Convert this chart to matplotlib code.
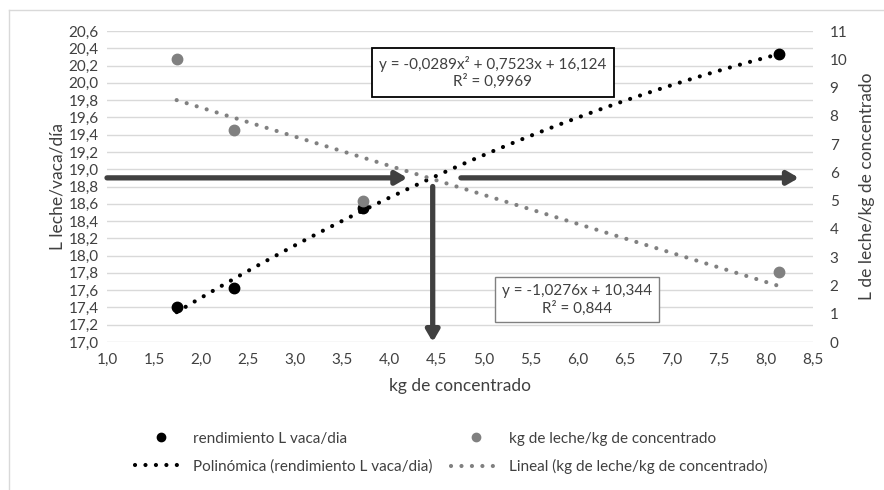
import numpy as np
import matplotlib
matplotlib.use("Agg")
from matplotlib import pyplot as plt
from matplotlib.lines import Line2D

plt.rcParams['font.family'] = ['Lato', 'DejaVu Sans']

# datos
kg_conc = [1.74, 2.35, 3.72, 8.14]
rendimiento = [17.41, 17.62, 18.55, 20.33]
leche_por_kg = [10.0, 7.5, 4.98, 2.48]

# coeficientes de las lineas de tendencia (impresos en el grafico)
poly_coef = [-0.0289, 0.7523, 16.124]
lin_coef = [-1.0276, 10.344]

eq_poly = "y = -0,0289x² + 0,7523x + 16,124\nR² = 0,9969"
eq_lin = "y = -1,0276x + 10,344\nR² = 0,844"

x_ticks = np.arange(1.0, 8.51, 0.5)
y_left_ticks = np.arange(17.0, 20.61, 0.2)
y_right_ticks = np.arange(0, 12, 1)

corte_y = 18.9
corte_x = 4.46

black = '#000000'
gray = '#808080'
arrow_col = '#404040'
txt_col = '#404040'

fig = plt.figure(figsize=(8.84, 4.9), dpi=100)
ax = fig.add_axes([107/884, 1 - 342/490, (813 - 107)/884, (342 - 31)/490])
ax2 = ax.twinx()

# marco del grafico
fig.add_artist(Line2D([9/884, 9/884], [0, 1 - 10.5/490], transform=fig.transFigure, color='#d9d9d9', lw=1))
fig.add_artist(Line2D([9/884, 1], [1 - 10.5/490, 1 - 10.5/490], transform=fig.transFigure, color='#d9d9d9', lw=1))

ax.set_xlim(1.0, 8.5)
ax.set_ylim(17.0, 20.6)
ax2.set_ylim(0, 11)

ax.set_yticks(y_left_ticks)
ax.set_yticklabels([f"{v:.1f}".replace('.', ',') for v in y_left_ticks])
ax.set_xticks(x_ticks)
ax.set_xticklabels([f"{v:.1f}".replace('.', ',') for v in x_ticks])
ax2.set_yticks(y_right_ticks)
ax2.set_yticklabels([str(v) for v in y_right_ticks])

ax.grid(axis='y', color='#d9d9d9', lw=1)
ax.set_axisbelow(True)
for a in (ax, ax2):
    for s in a.spines.values():
        s.set_visible(False)
    a.tick_params(length=0, labelsize=11, labelcolor=txt_col)
ax.tick_params(axis='x', pad=8)
ax.tick_params(axis='y', pad=6)
ax2.tick_params(axis='y', pad=12)

ax.set_xlabel("kg de concentrado", fontsize=12.5, color=txt_col, labelpad=8)
ax.set_ylabel("L leche/vaca/día", fontsize=12.5, color=txt_col, labelpad=2)
ax2.set_ylabel("L de leche/kg de concentrado", fontsize=12.5, color=txt_col, labelpad=8)

# lineas de tendencia
xt = np.linspace(min(kg_conc), max(kg_conc), 200)
ax.plot(xt, np.polyval(poly_coef, xt), color=black, lw=3, dashes=(0.01, 2.5),
        dash_capstyle='round', zorder=3)
ax2.plot(xt, np.polyval(lin_coef, xt), color=gray, lw=3, dashes=(0.01, 2.5),
         dash_capstyle='round', zorder=3)

# puntos
ax.plot(kg_conc, rendimiento, 'o', color=black, ms=7.5, zorder=4)
ax2.plot(kg_conc, leche_por_kg, 'o', color=gray, ms=7.5, zorder=4)

# flechas
aprops = dict(arrowstyle='-|>,head_length=0.6,head_width=0.35', lw=3.8,
              color=arrow_col, shrinkA=0, shrinkB=0, mutation_scale=11)
ax.annotate('', xy=(4.19, corte_y), xytext=(1.0, corte_y), arrowprops=aprops, zorder=5)
ax.annotate('', xy=(8.35, corte_y), xytext=(4.76, corte_y), arrowprops=aprops, zorder=5)
ax.annotate('', xy=(corte_x, 17.0), xytext=(corte_x, 18.8), arrowprops=aprops, zorder=5)

# ecuaciones
ax.text(5.10, 20.12, eq_poly, ha='center', va='center', fontsize=11, color=txt_col,
        linespacing=1.2, zorder=6,
        bbox=dict(boxstyle='square,pad=0.5', fc='white', ec='black', lw=1.3))
ax.text(5.99, 17.49, eq_lin, ha='center', va='center', fontsize=11, color=txt_col,
        linespacing=1.2, zorder=6,
        bbox=dict(boxstyle='square,pad=0.45', fc='white', ec='#808080', lw=1.0))

# leyenda
handles = [
    Line2D([], [], ls='none', marker='o', color=black, ms=6),
    Line2D([], [], color=black, lw=3, dashes=(0.01, 2.5), dash_capstyle='round'),
    Line2D([], [], ls='none', marker='o', color=gray, ms=6),
    Line2D([], [], color=gray, lw=3, dashes=(0.01, 2.5), dash_capstyle='round'),
]
labels = [
    "rendimiento L vaca/dia",
    "Polinómica (rendimiento L vaca/dia)",
    "kg de leche/kg de concentrado",
    "Lineal (kg de leche/kg de concentrado)",
]
leg = fig.legend(handles, labels, ncol=2, loc='center', bbox_to_anchor=(0.51, 1 - 453/490),
                 frameon=False, fontsize=11, handlelength=3.4, handletextpad=0.4,
                 columnspacing=1.2, labelspacing=0.9)
for t in leg.get_texts():
    t.set_color(txt_col)

fig.savefig("out.png", dpi=100)
